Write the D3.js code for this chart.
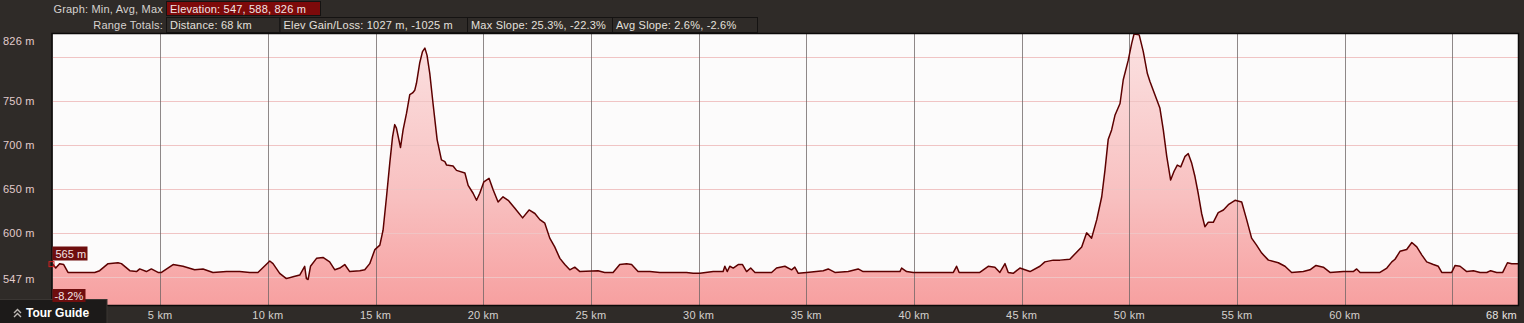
<!DOCTYPE html>
<html><head><meta charset="utf-8">
<script src="https://cdn.jsdelivr.net/npm/d3@7"></script>
<style>
html,body{margin:0;padding:0;background:#2f2b28;overflow:hidden}
svg{display:block}
text{font-family:"Liberation Sans",Arial,sans-serif}
</style></head><body>
<svg id="c" width="1524" height="323"></svg>
<script>
// ---- data ----
const distKm = [0.00,0.15,0.33,0.52,0.72,1.96,2.19,2.58,3.04,3.20,3.59,3.90,4.05,4.36,4.59,4.90,5.06,5.60,6.06,6.60,6.99,7.45,8.08,8.69,9.16,9.54,10.09,10.24,10.55,10.86,11.17,11.48,11.71,11.79,11.87,11.98,12.26,12.56,12.87,13.11,13.34,13.57,13.80,14.27,14.50,14.73,14.97,15.20,15.35,15.51,15.66,15.79,15.89,15.97,16.16,16.28,16.44,16.59,16.72,16.82,16.90,17.05,17.18,17.29,17.39,17.52,17.67,17.86,18.06,18.22,18.30,18.60,18.76,19.15,19.30,19.53,19.69,19.84,20.03,20.15,20.27,20.46,20.69,20.92,21.16,21.47,21.83,22.13,22.40,22.63,22.86,23.09,23.32,23.56,23.79,24.02,24.25,24.49,25.33,25.64,26.03,26.34,26.66,26.89,27.19,27.74,28.20,29.44,29.75,30.06,30.68,31.14,31.22,31.33,31.45,31.61,31.84,32.04,32.23,32.42,32.62,33.39,33.62,34.01,34.32,34.47,34.63,35.02,35.79,36.02,36.33,36.95,37.41,37.64,39.35,39.43,39.66,39.97,41.83,41.98,42.10,43.06,43.45,43.76,43.99,44.23,44.38,44.61,44.92,45.39,45.85,46.08,46.47,46.78,47.24,47.79,48.02,48.25,48.49,48.72,48.87,49.02,49.18,49.34,49.57,49.72,49.95,50.11,50.22,50.46,50.65,50.84,50.96,51.19,51.42,51.58,51.74,51.92,52.08,52.23,52.39,52.59,52.74,52.90,53.05,53.20,53.36,53.51,53.67,53.90,54.13,54.37,54.60,54.91,55.22,55.45,55.68,55.91,56.15,56.46,56.92,57.23,57.54,58.08,58.39,58.67,59.01,59.32,59.94,60.40,60.56,60.72,61.64,61.96,62.19,62.34,62.57,62.88,63.12,63.35,63.58,63.81,64.12,64.35,64.51,64.97,65.13,65.36,65.67,65.98,66.29,66.60,66.78,67.06,67.34,67.56,67.76,68.05];
const elevM = [565,560,565,564,555,555,557,565,566,565,557,556,559,556,559,555,555,564,562,558,559,555,556,556,555,555,568,565,554,548,550,552,562,548,547,562,571,572,567,558,560,564,556,557,558,565,581,586,603,641,679,709,723,719,697,717,736,757,759,762,770,793,806,810,802,781,747,706,683,681,677,676,671,668,654,645,637,645,658,660,662,649,635,641,637,628,617,626,622,615,611,594,584,571,564,558,561,556,557,555,555,564,565,564,556,556,555,555,554,554,556,556,562,556,562,560,564,564,556,560,555,555,560,562,558,561,554,555,557,559,555,556,559,556,556,560,556,555,555,562,555,555,562,561,555,565,555,554,560,556,562,567,569,569,570,584,600,594,615,641,671,706,717,734,747,774,796,815,826,825,806,781,772,757,742,717,687,660,670,677,675,687,690,679,664,645,622,607,612,612,623,626,632,637,635,615,594,586,577,569,566,562,555,556,558,563,561,555,556,556,559,555,555,560,567,570,579,581,589,584,575,567,564,562,555,555,563,562,556,557,555,555,557,555,555,566,565,565];
const xGridKm = [5,10,15,20,25,30,35,40,45,50,55,60,65];
const xTickLabels = ["5 km","10 km","15 km","20 km","25 km","30 km","35 km","40 km","45 km","50 km","55 km","60 km",""];
const xEndLabel = "68 km";
const yGridM = [550,600,650,700,750,800];
const yLabelM = [547,600,650,700,750,826];
const headerRow1Label = "Graph: Min, Avg, Max";
const headerRow1Boxes = ["Elevation: 547, 588, 826 m"];
const headerRow2Label = "Range Totals:";
const headerRow2Boxes = ["Distance: 68 km","Elev Gain/Loss: 1027 m, -1025 m","Max Slope: 25.3%, -22.3%","Avg Slope: 2.6%, -2.6%"];
const cursorSlope = "-8.2%";
const tourGuideLabel = "Tour Guide";

// ---- layout ----
const W = 1524, H = 323;
const L = 52.5, R = 1518, T = 34, B = 305;
const svg = d3.select("#c");

const x = d3.scaleLinear().domain([0, 68.05]).range([L, R]);
const y = d3.scaleLinear().domain([518, 826]).range([B, T]);

svg.append("rect").attr("width", W).attr("height", H).attr("fill", "#2f2b28");

// header
const row1W = [154];
const row2W = [113.5, 187.5, 145, 145];
const hdr = (sel) => sel.attr("font-size", 11).attr("letter-spacing", 0.2);
hdr(svg.append("text").attr("x", 163).attr("y", 12.5).attr("text-anchor", "end")
  .attr("fill", "#d6d2cf").text(headerRow1Label));
hdr(svg.append("text").attr("x", 163).attr("y", 28.5).attr("text-anchor", "end")
  .attr("fill", "#d6d2cf").text(headerRow2Label));
let bx = 166;
headerRow1Boxes.forEach((t, i) => {
  svg.append("rect").attr("x", bx + 0.5).attr("y", 1.5).attr("width", row1W[i]).attr("height", 14)
    .attr("fill", "#7d0a0a").attr("stroke", "#151312");
  hdr(svg.append("text").attr("x", bx + 4).attr("y", 12.5).attr("fill", "#f2e6e6").text(t));
  bx += row1W[i];
});
bx = 166;
headerRow2Boxes.forEach((t, i) => {
  svg.append("rect").attr("x", bx + 0.5).attr("y", 17.5).attr("width", row2W[i]).attr("height", 15)
    .attr("fill", "#2f2b28").attr("stroke", "#151312");
  hdr(svg.append("text").attr("x", bx + 4).attr("y", 28.5).attr("fill", "#e4e0dd").text(t));
  bx += row2W[i];
});

// plot background
svg.append("rect").attr("x", L).attr("y", T).attr("width", R - L).attr("height", B - T).attr("fill", "#fcfbfb");

// gradient
const defs = svg.append("defs");
const grad = defs.append("linearGradient").attr("id", "g").attr("gradientUnits", "userSpaceOnUse")
  .attr("x1", 0).attr("x2", 0).attr("y1", T).attr("y2", B);
grad.append("stop").attr("offset", 0).attr("stop-color", "#fbe2e2");
grad.append("stop").attr("offset", 0.6).attr("stop-color", "#f8c0c0");
grad.append("stop").attr("offset", 1).attr("stop-color", "#f7a0a0");
defs.append("clipPath").attr("id", "clip").append("rect")
  .attr("x", L).attr("y", T).attr("width", R - L).attr("height", B - T);

const pts = distKm.map((d, i) => [d, elevM[i]]);
const g = svg.append("g").attr("clip-path", "url(#clip)");
g.append("path").datum(pts)
  .attr("d", d3.area().x(d => x(d[0])).y0(B).y1(d => y(d[1])))
  .attr("fill", "url(#g)");

// grid on top of area
g.selectAll("line.h").data(yGridM).join("line")
  .attr("x1", L).attr("x2", R).attr("y1", d => Math.round(y(d)) + 0.5).attr("y2", d => Math.round(y(d)) + 0.5)
  .attr("stroke", "#f0c4c4");
g.selectAll("line.v").data(xGridKm).join("line")
  .attr("y1", T).attr("y2", B).attr("x1", d => Math.round(x(d)) + 0.5).attr("x2", d => Math.round(x(d)) + 0.5)
  .attr("stroke", "#6a6262").attr("stroke-opacity", 0.75);

g.append("path").datum(pts)
  .attr("d", d3.line().x(d => x(d[0])).y(d => y(d[1])))
  .attr("fill", "none").attr("stroke", "#5c0000").attr("stroke-width", 1.5).attr("stroke-linejoin", "round");

// border
svg.append("rect").attr("x", L - 0.5).attr("y", T - 0.5).attr("width", R - L + 1).attr("height", B - T + 1)
  .attr("fill", "none").attr("stroke", "#0c0a09").attr("stroke-width", 1.5);

// y labels
svg.selectAll("text.yl").data(yLabelM).join("text")
  .attr("x", 3).attr("y", d => Math.max(y(d), T + 7) + 4)
  .attr("fill", "#e2cccc").attr("font-size", 11).attr("letter-spacing", 0.2).text(d => d + " m");

// x labels
svg.selectAll("text.xl").data(xGridKm).join("text")
  .attr("x", d => x(d)).attr("y", 319).attr("text-anchor", "middle")
  .attr("fill", "#d4d0cd").attr("font-size", 11).attr("letter-spacing", 0.2).text((d, i) => xTickLabels[i]);
svg.append("text").attr("x", R - 1).attr("y", 319).attr("text-anchor", "end")
  .attr("fill", "#e8e4e1").attr("font-size", 11).attr("letter-spacing", 0.2).text(xEndLabel);

// Tour guide
svg.append("rect").attr("x", -1).attr("y", 299.5).attr("width", 108).attr("height", 25)
  .attr("fill", "#1c1a19").attr("stroke", "#3a3633");
const tg = svg.append("g").attr("fill", "none").attr("stroke", "#bdb8b4").attr("stroke-width", 1.4);
tg.append("path").attr("d", "M14,313 L17.5,309.5 L21,313");
tg.append("path").attr("d", "M14,317 L17.5,313.5 L21,317");
svg.append("text").attr("x", 26).attr("y", 317).attr("fill", "#ffffff").attr("font-size", 12)
  .attr("font-weight", "bold").text(tourGuideLabel);

// cursor markers
const cx = x(distKm[0]), cy = y(elevM[0]);
svg.append("rect").attr("x", cx - 3.5).attr("y", cy - 2).attr("width", 5).attr("height", 5)
  .attr("fill", "none").attr("stroke", "#d02020").attr("stroke-width", 1);
svg.append("rect").attr("x", L).attr("y", 246.5).attr("width", 35).attr("height", 14).attr("fill", "#6e0e0e");
svg.append("text").attr("x", L + 3).attr("y", 257.5).attr("fill", "#f4e4e4").attr("font-size", 11).text(elevM[0] + " m");
svg.append("rect").attr("x", L).attr("y", 289).attr("width", 33).attr("height", 13).attr("fill", "#6e0e0e");
svg.append("text").attr("x", L + 2).attr("y", 300).attr("fill", "#f4e4e4").attr("font-size", 11).text(cursorSlope);
</script>
</body></html>
